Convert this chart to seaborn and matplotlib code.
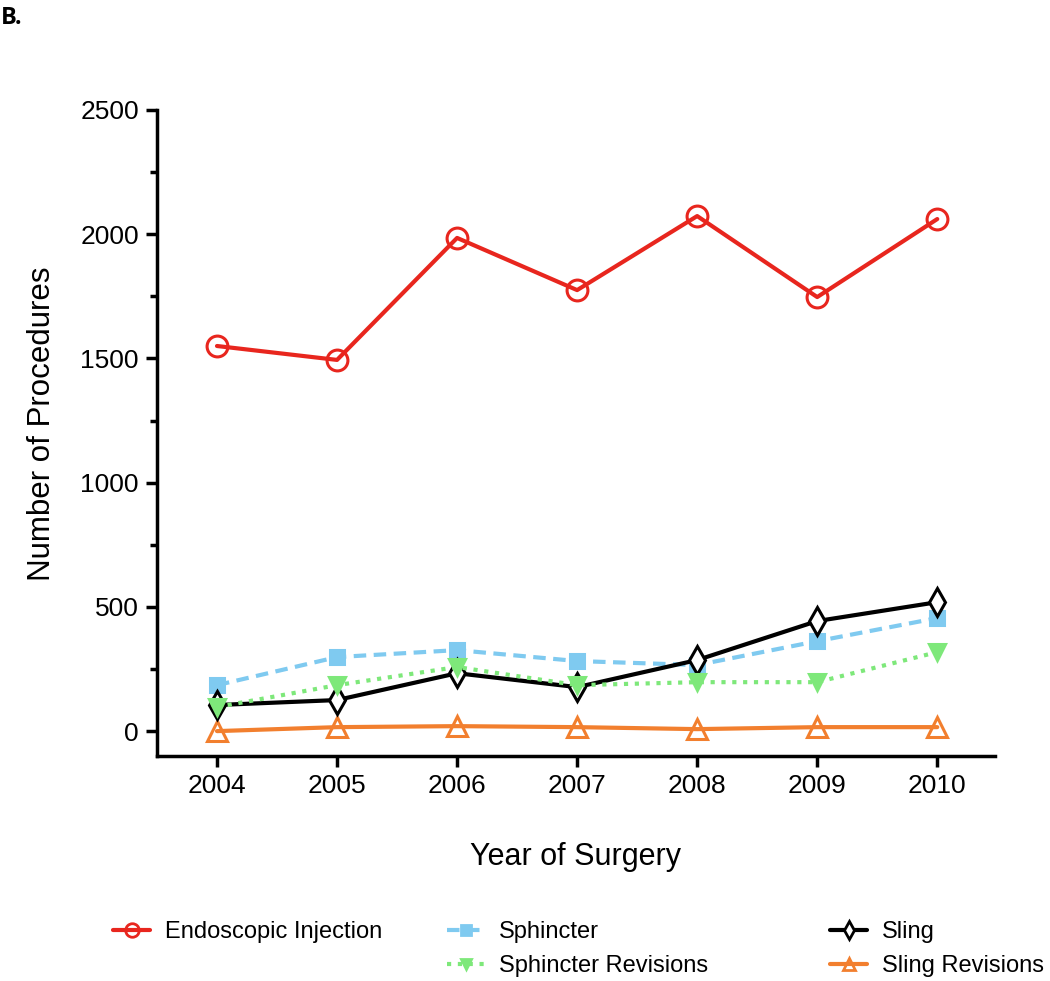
import pandas as pd
import seaborn as sns
import matplotlib.pyplot as plt
from matplotlib.lines import Line2D
from matplotlib.ticker import MultipleLocator

# values
years = [2004, 2005, 2006, 2007, 2008, 2009, 2010]
endoscopic = [1550, 1494, 1985, 1775, 2073, 1747, 2061]
sphincter = [185, 298, 326, 282, 266, 362, 455]
sphincter_rev = [97, 185, 258, 185, 197, 197, 318]
sling = [105, 125, 233, 177, 286, 443, 519]
sling_rev = [0, 16, 20, 16, 8, 16, 16]

sns.set_style("white")
plt.rcParams['font.family'] = ['Liberation Sans', 'DejaVu Sans']
plt.rcParams['text.color'] = 'black'
plt.rcParams['axes.labelcolor'] = 'black'
plt.rcParams['xtick.color'] = 'black'
plt.rcParams['ytick.color'] = 'black'

fig = plt.figure(figsize=(10.5, 9.81), dpi=100)
ax = fig.add_axes([0.1495, 0.2294, 0.798, 0.6585])

# name, data, colour, linestyle, marker, size, face colour, zorder
styles = [
    ("Endoscopic Injection", endoscopic, "#e8261e", "-", "o", 15, "none", 2),
    ("Sling Revisions", sling_rev, "#f27f2e", "-", "^", 14, "none", 2),
    ("Sphincter", sphincter, "#7fcaf0", (0, (3, 1.8)), "s", 10, None, 3),
    ("Sling", sling, "#000000", "-", "d", 14, "white", 4),
    ("Sphincter Revisions", sphincter_rev, "#7ee87a", (0, (1, 1.6)), "v", 12, None, 5),
]

handles = {}
for name, vals, col, ls, mk, ms, mfc, z in styles:
    df = pd.DataFrame({"year": years, "n": vals})
    face = col if mfc is None else mfc
    sns.lineplot(data=df, x="year", y="n", ax=ax, color=col, linestyle=ls, lw=3,
                 marker=mk, markersize=ms, markerfacecolor=face,
                 markeredgecolor=col, markeredgewidth=2.2, zorder=z)
    handles[name] = Line2D([], [], color=col, linestyle=ls, lw=3, marker=mk,
                           markersize=ms * 0.65, markerfacecolor=face,
                           markeredgecolor=col, markeredgewidth=2)

ax.set_xlim(2003.5, 2010.48)
ax.set_ylim(-100, 2500)
ax.set_xticks(years)
ax.yaxis.set_major_locator(MultipleLocator(500))
ax.yaxis.set_minor_locator(MultipleLocator(250))

for s in ["top", "right"]:
    ax.spines[s].set_visible(False)
for s in ["left", "bottom"]:
    ax.spines[s].set_linewidth(2.5)
    ax.spines[s].set_color("black")
ax.tick_params(axis="both", which="major", direction="out", length=8, width=2.5,
               labelsize=19, left=True, bottom=True, pad=5)
ax.tick_params(axis="y", which="minor", direction="out", length=5, width=2.5, left=True)

ax.set_xlabel("Year of Surgery", fontsize=22, labelpad=32)
ax.set_ylabel("Number of Procedures", fontsize=22.5)
ax.yaxis.set_label_coords(-0.119, 0.514)

fig.text(0.001, 0.994, "B.", fontsize=17, fontweight="bold", va="top", ha="left",
         family=["Open Sans", "DejaVu Sans"])

# legend laid out in three separate columns like the original
legend_cols = [
    (113 / 1050, ["Endoscopic Injection"]),
    (447 / 1050, ["Sphincter", "Sphincter Revisions"]),
    (830 / 1050, ["Sling", "Sling Revisions"]),
]
for x0, names in legend_cols:
    fig.legend([handles[n] for n in names], names, loc="upper left",
               bbox_to_anchor=(x0, 0.061), bbox_transform=fig.transFigure,
               frameon=False, fontsize=17, handlelength=1.57, handletextpad=0.64,
               labelspacing=0.5, borderaxespad=0, borderpad=0)

fig.savefig("out.png", dpi=100)
